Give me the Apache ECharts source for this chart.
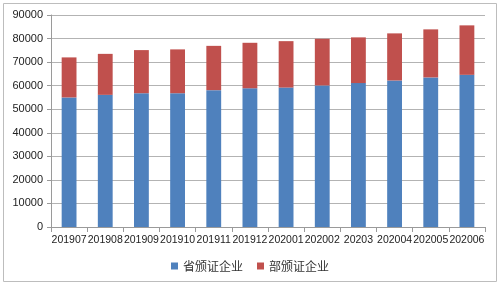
<!DOCTYPE html>
<html>
<head>
<meta charset="utf-8">
<script src="https://cdn.jsdelivr.net/npm/echarts@6/dist/echarts.min.js"></script>
<style>
html, body { margin: 0; padding: 0; background: #fff; }
#main { width: 500px; height: 286px; }
</style>
</head>
<body>
<div id="main"></div>
<script>
// 月份
var months = ['201907', '201908', '201909', '201910', '201911', '201912',
  '202001', '202002', '20203', '202004', '202005', '202006'];
// 省颁证企业
var provValues = [55000, 56100, 56800, 56800, 58100, 58900, 59200, 60100, 61100, 62200, 63500, 64600];
// 总数
var totalValues = [72000, 73500, 75100, 75400, 76900, 78200, 78900, 79900, 80500, 82200, 83900, 85600];
// 部颁证企业 = 总数 - 省颁证
var deptValues = totalValues.map(function (t, i) { return t - provValues[i]; });

var yTicks = { min: 0, max: 90000, interval: 10000 };

var chart = echarts.init(document.getElementById('main'));
chart.setOption({
  animation: false,
  textStyle: { fontFamily: 'Noto Sans CJK SC, sans-serif' },
  graphic: [{
    type: 'rect',
    shape: { x: 3.5, y: 3.5, width: 493, height: 278 },
    style: { fill: 'none', stroke: '#bdbdbd', lineWidth: 1 }
  }],
  grid: { left: 51, right: 15, top: 15, bottom: 59 },
  legend: {
    bottom: 9,
    left: 'center',
    itemWidth: 7,
    itemHeight: 7,
    itemGap: 14,
    icon: 'rect',
    textStyle: { fontSize: 12, color: '#333' },
    data: ['省颁证企业', '部颁证企业']
  },
  xAxis: {
    type: 'category',
    data: months,
    axisLine: { lineStyle: { color: '#9a9a9a' } },
    axisTick: { show: true, alignWithLabel: false, lineStyle: { color: '#9a9a9a' } },
    axisLabel: { color: '#222', fontSize: 10.5, interval: 0, margin: 8, fontFamily: 'Liberation Sans, sans-serif' }
  },
  yAxis: {
    type: 'value',
    min: yTicks.min,
    max: yTicks.max,
    interval: yTicks.interval,
    axisLine: { show: true, lineStyle: { color: '#9a9a9a' } },
    axisTick: { show: true, length: 4, lineStyle: { color: '#9a9a9a' } },
    axisLabel: {
      color: '#222', fontSize: 11, margin: 8, fontFamily: 'Liberation Sans, sans-serif',
      formatter: function (v) { return String(v); }
    },
    splitLine: { lineStyle: { color: '#b3b3b3' } }
  },
  series: [{
    name: '省颁证企业',
    type: 'bar',
    stack: 'total',
    barWidth: '41%',
    itemStyle: { color: '#4F81BD' },
    data: provValues
  }, {
    name: '部颁证企业',
    type: 'bar',
    stack: 'total',
    barWidth: '41%',
    itemStyle: { color: '#C0504D' },
    data: deptValues
  }]
});
</script>
</body>
</html>
